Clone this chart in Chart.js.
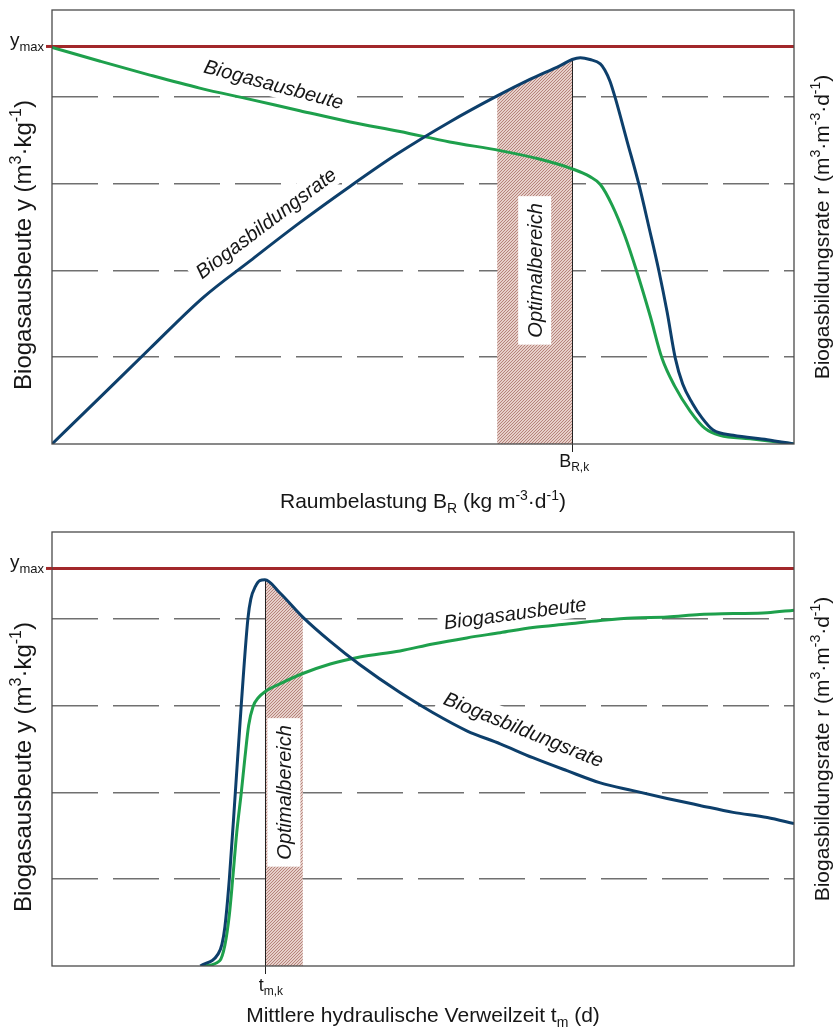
<!DOCTYPE html>
<html>
<head>
<meta charset="utf-8">
<script src="https://cdn.jsdelivr.net/npm/chart.js@4.4.1/dist/chart.umd.min.js"></script>
<style>
    html, body { margin: 0; padding: 0; background: #fff; }
    #wrap { position: relative; width: 835px; height: 1030px; }
    .panel { position: absolute; left: 0; width: 835px; height: 515px; }
</style>
</head>
<body>
<div id="wrap">
    <div class="panel" style="top:0"><canvas id="loadChart" width="835" height="515"></canvas></div>
    <div class="panel" style="top:515px"><canvas id="hrtChart" width="835" height="515"></canvas></div>
</div>
<script>
// shared y levels (arbitrary units, no numbers on the axes)
const Y_MAX = 4.58;
const Y_GRID = [1, 2, 3, 4];

// top: Raumbelastung
const loadRateX = [0, 6.5, 13.2, 20.4, 26.7, 33.4, 40.2, 46.5, 53.6, 60.0, 64.4, 68.5, 70.1, 71.2, 72.5, 73.9, 74.5, 75.2, 75.9, 77.5, 79.1, 80.5, 81.8, 82.9, 84.0, 85.0, 86.3, 87.6, 89.1, 91.8, 96.4, 100];
const loadRate = [0, 0.54, 1.10, 1.69, 2.11, 2.55, 2.97, 3.34, 3.71, 4.01, 4.20, 4.36, 4.43, 4.45, 4.43, 4.38, 4.31, 4.18, 3.99, 3.49, 2.99, 2.48, 1.99, 1.52, 0.99, 0.69, 0.47, 0.30, 0.16, 0.10, 0.05, 0];
const loadYieldX = [0, 6.5, 13.2, 19.9, 26.7, 33.4, 40.2, 46.9, 53.6, 60.4, 65.8, 70.1, 72.5, 73.9, 75.5, 77.2, 78.8, 80.6, 82.2, 83.9, 86.0, 88.0, 90.0, 94.1, 100];
const loadYield = [4.57, 4.41, 4.25, 4.10, 3.97, 3.84, 3.71, 3.60, 3.48, 3.38, 3.28, 3.17, 3.08, 2.99, 2.75, 2.40, 1.99, 1.48, 0.99, 0.67, 0.38, 0.18, 0.10, 0.06, 0];
const loadOptimum = [60.0, 70.1];
const loadCritical = 70.1;

// bottom: hydraulische Verweilzeit
const hrtRateX = [20.0, 22.4, 22.9, 23.3, 23.9, 24.7, 25.5, 26.4, 26.8, 27.4, 28.0, 28.7, 30.7, 33.8, 37.5, 41.5, 46.9, 51.3, 55.9, 60.4, 64.8, 69.4, 73.9, 78.3, 82.9, 87.3, 91.8, 96.4, 100];
const hrtRate = [0, 0.14, 0.25, 0.45, 1.00, 1.99, 3.00, 4.00, 4.23, 4.37, 4.44, 4.45, 4.30, 4.02, 3.74, 3.47, 3.15, 2.92, 2.71, 2.56, 2.40, 2.25, 2.11, 2.02, 1.93, 1.85, 1.77, 1.71, 1.64];
const hrtYieldX = [20.5, 22.6, 23.3, 23.9, 24.4, 24.9, 25.5, 26.0, 26.5, 27.1, 27.8, 28.7, 30.7, 33.8, 37.5, 41.5, 46.9, 51.3, 55.9, 60.4, 64.8, 69.4, 73.9, 78.3, 82.9, 87.3, 91.8, 96.4, 100];
const hrtYield = [0, 0.06, 0.24, 0.59, 1.05, 1.54, 1.99, 2.40, 2.77, 2.99, 3.09, 3.16, 3.25, 3.37, 3.48, 3.56, 3.63, 3.71, 3.78, 3.84, 3.90, 3.94, 3.98, 4.01, 4.02, 4.05, 4.06, 4.07, 4.10];
const hrtOptimum = [28.7, 33.8];
const hrtCritical = 28.7;

const BLUE = '#0d3f6b';
const GREEN = '#1ea04c';
const RED = '#a2282a';
const GRID = '#707070';
const FONT = '"Liberation Sans", Arial, Helvetica, sans-serif';

function zip(xs, ys) {
    return xs.map(function(x, i) { return { x: x, y: ys[i] }; });
}

function drawRich(ctx, segs, x, y, opt) {
    const size = opt.size;
    const style = opt.italic ? 'italic ' : '';
    const small = Math.round(size * 0.66);
    const parts = segs.map(function(s) {
        const kind = s[1] || '';
        ctx.font = style + (kind ? small : size) + 'px ' + FONT;
        return { text: s[0], kind: kind, font: ctx.font, w: ctx.measureText(s[0]).width };
    });
    const total = parts.reduce(function(a, p) { return a + p.w; }, 0);
    const base = opt.baseline != null ? opt.baseline : size * 0.36;
    let cx = opt.align === 'right' ? -total : (opt.align === 'left' ? 0 : -total / 2);

    ctx.save();
    ctx.translate(x, y);
    ctx.rotate((opt.angle || 0) * Math.PI / 180);
    if (opt.box) {
        ctx.fillStyle = '#fff';
        ctx.fillRect(cx - opt.box[0], -opt.box[1] / 2, total + 2 * opt.box[0], opt.box[1]);
    }
    ctx.fillStyle = '#161616';
    ctx.textAlign = 'left';
    ctx.textBaseline = 'alphabetic';
    parts.forEach(function(p) {
        const dy = p.kind === 'sup' ? -size * 0.4 : (p.kind === 'sub' ? size * 0.22 : 0);
        ctx.font = p.font;
        ctx.fillText(p.text, cx, base + dy);
        cx += p.w;
    });
    ctx.restore();
}

function makeHatch(ctx) {
    const c = document.createElement('canvas');
    c.width = 3;
    c.height = 3;
    const g = c.getContext('2d');
    g.fillStyle = '#e6cfc9';
    g.fillRect(0, 0, 3, 3);
    g.strokeStyle = '#b07a72';
    g.lineWidth = 0.9;
    g.beginPath();
    g.moveTo(0, 3); g.lineTo(3, 0);
    g.moveTo(-1, 1); g.lineTo(1, -1);
    g.moveTo(2, 4); g.lineTo(4, 2);
    g.stroke();
    return ctx.createPattern(c, 'repeat');
}

const leftTitle = [['Biogasausbeute y (m'], ['3', 'sup'], ['\u00b7kg'], ['-1', 'sup'], [')']];
const rightTitle = [['Biogasbildungsrate r (m'], ['3', 'sup'], ['\u00b7m'], ['-3', 'sup'], ['\u00b7d'], ['-1', 'sup'], [')']];
const yMaxLabel = [['y'], ['max', 'sub']];

function decorPlugin(cfg) {
    return {
        id: 'decor',
        beforeDatasetsDraw: function(chart) {
            const ctx = chart.ctx;
            const area = chart.chartArea;
            const xs = chart.scales.x;
            const ys = chart.scales.y;
            const meta = chart.getDatasetMeta(0);
            const line = meta.dataset;
            line.updateControlPoints(area, 'x');

            // hatched optimum band under the rate curve
            const x0 = xs.getPixelForValue(cfg.band[0]);
            const x1 = xs.getPixelForValue(cfg.band[1]);
            const pts = line.points;
            ctx.save();
            ctx.beginPath();
            ctx.rect(x0, area.top, x1 - x0, area.bottom - area.top);
            ctx.clip();
            ctx.beginPath();
            line.path(ctx);
            ctx.lineTo(pts[pts.length - 1].x, area.bottom);
            ctx.lineTo(pts[0].x, area.bottom);
            ctx.closePath();
            ctx.fillStyle = makeHatch(ctx);
            ctx.fill();
            ctx.restore();

            // critical marker line from the curve down through the axis
            const el = meta.data[cfg.rateX.indexOf(cfg.critical)];
            const cxPix = Math.round(xs.getPixelForValue(cfg.critical)) + 0.5;
            ctx.save();
            ctx.strokeStyle = '#222';
            ctx.lineWidth = 1;
            ctx.beginPath();
            ctx.moveTo(cxPix, el.y);
            ctx.lineTo(cxPix, area.bottom + 8);
            ctx.stroke();
            ctx.restore();

            drawRich(ctx, [['Optimalbereich']], (x0 + x1) / 2, ys.getPixelForValue(2), { size: 20, italic: true, angle: -90, box: [7, 33] });

            cfg.labels.forEach(function(l) {
                drawRich(ctx, [[l.text]], xs.getPixelForValue(l.x), ys.getPixelForValue(l.y), { size: 20, italic: true, angle: l.angle, box: [6, 26] });
            });
        },
        afterDraw: function(chart) {
            const ctx = chart.ctx;
            const area = chart.chartArea;
            const xs = chart.scales.x;
            const ys = chart.scales.y;
            const midY = (area.top + area.bottom) / 2;
            const yMaxPix = ys.getPixelForValue(Y_MAX);

            ctx.save();
            ctx.strokeStyle = '#4a4a4a';
            ctx.lineWidth = 1.3;
            ctx.strokeRect(area.left, area.top, area.right - area.left, area.bottom - area.top);
            ctx.strokeStyle = RED;
            ctx.lineWidth = 3;
            ctx.beginPath();
            ctx.moveTo(area.left - 6, yMaxPix);
            ctx.lineTo(area.left, yMaxPix);
            ctx.stroke();
            ctx.restore();

            drawRich(ctx, yMaxLabel, area.left - 8, yMaxPix, { size: 19, align: 'right', baseline: 0 });
            drawRich(ctx, leftTitle, 22, area.top + 90, { size: 24, angle: -90, align: 'right' });
            drawRich(ctx, rightTitle, 821, midY, { size: 21, angle: -90 });
            drawRich(ctx, cfg.xTitle, (area.left + area.right) / 2, cfg.xTitleY, { size: 21 });
            drawRich(ctx, cfg.critLabel, xs.getPixelForValue(cfg.critical) + cfg.critShift, area.bottom + cfg.critDy, { size: 18 });
        }
    };
}

function buildChart(id, cfg) {
    return new Chart(document.getElementById(id), {
        type: 'line',
        data: {
            datasets: [
                { label: 'Biogasbildungsrate', data: zip(cfg.rateX, cfg.rate), borderColor: BLUE, borderWidth: 3, pointRadius: 0, cubicInterpolationMode: 'monotone', fill: false, order: 0 },
                { label: 'Biogasausbeute', data: zip(cfg.yieldX, cfg.yieldVals), borderColor: GREEN, borderWidth: 3, pointRadius: 0, cubicInterpolationMode: 'monotone', fill: false, order: 1 },
                { label: 'ymax', data: [{ x: 0, y: Y_MAX }, { x: 100, y: Y_MAX }], borderColor: RED, borderWidth: 3, pointRadius: 0, fill: false, order: 2 }
            ]
        },
        options: {
            responsive: false,
            animation: false,
            devicePixelRatio: 1,
            layout: { padding: cfg.padding },
            plugins: { legend: { display: false }, tooltip: { enabled: false }, title: { display: false } },
            scales: {
                x: { type: 'linear', min: 0, max: 100, display: false },
                y: {
                    type: 'linear', min: 0, max: 5,
                    afterBuildTicks: function(scale) { scale.ticks = Y_GRID.map(function(v) { return { value: v }; }); },
                    ticks: { display: false },
                    grid: { color: GRID, lineWidth: 1.6, drawTicks: false },
                    border: { display: false, dash: [46, 15] }
                }
            }
        },
        plugins: [decorPlugin(cfg)]
    });
}

buildChart('loadChart', {
    rateX: loadRateX, rate: loadRate, yieldX: loadYieldX, yieldVals: loadYield,
    band: loadOptimum, critical: loadCritical,
    padding: { left: 52, right: 41, top: 10, bottom: 71 },
    xTitle: [['Raumbelastung B'], ['R', 'sub'], [' (kg m'], ['-3', 'sup'], ['\u00b7d'], ['-1', 'sup'], [')']],
    xTitleY: 500.5,
    critLabel: [['B'], ['R,k', 'sub']], critShift: 2, critDy: 17,
    labels: [
        { text: 'Biogasausbeute', x: 29.9, y: 4.15, angle: 15 },
        { text: 'Biogasbildungsrate', x: 28.8, y: 2.55, angle: -37 }
    ]
});

buildChart('hrtChart', {
    rateX: hrtRateX, rate: hrtRate, yieldX: hrtYieldX, yieldVals: hrtYield,
    band: hrtOptimum, critical: hrtCritical,
    padding: { left: 52, right: 41, top: 17, bottom: 64 },
    xTitle: [['Mittlere hydraulische Verweilzeit t'], ['m', 'sub'], [' (d)']],
    xTitleY: 499.5,
    critLabel: [['t'], ['m,k', 'sub']], critShift: 6, critDy: 19,
    labels: [
        { text: 'Biogasausbeute', x: 62.4, y: 4.07, angle: -7.5 },
        { text: 'Biogasbildungsrate', x: 63.6, y: 2.73, angle: 22 }
    ]
});
</script>
</body>
</html>
